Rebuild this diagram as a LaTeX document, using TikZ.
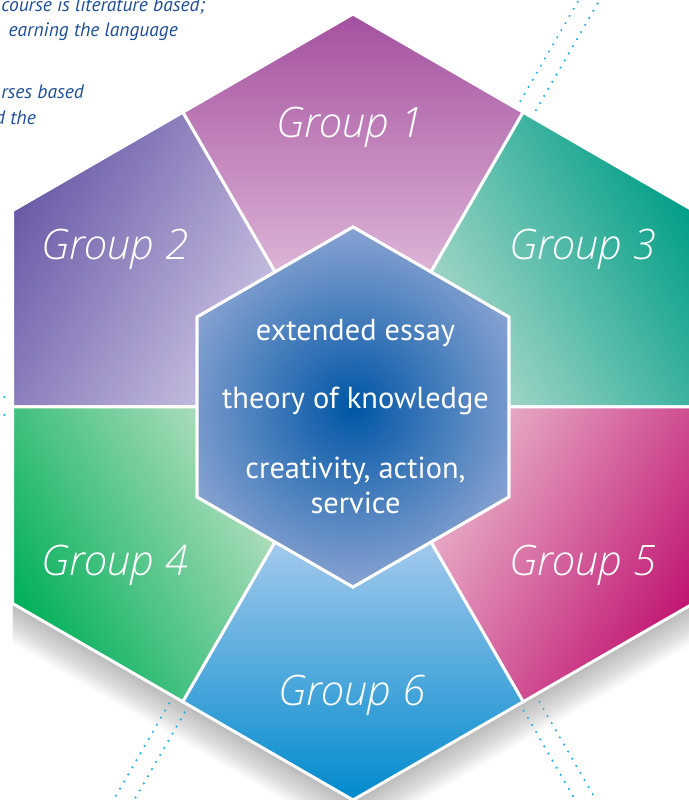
\documentclass[tikz,border=0pt]{standalone}
\usepackage{fontspec}
\usepackage{tikz}
\usetikzlibrary{calc}
\setmainfont{PT Sans}
\IfFontExistsTF{Open Sans Light Italic}
  {\newfontfamily\grpfont{Open Sans Light Italic}}
  {\IfFontExistsTF{Lato Light Italic}
     {\newfontfamily\grpfont{Lato Light Italic}}
     {\newcommand{\grpfont}{\itshape}}}

% sector colours: outer corner / towards the core
\definecolor{grpAout}{HTML}{A4509F}\definecolor{grpAin}{HTML}{DDB4D6}
\definecolor{grpBout}{HTML}{6A5AA7}\definecolor{grpBin}{HTML}{C9C1E2}
\definecolor{grpCout}{HTML}{009E86}\definecolor{grpCin}{HTML}{A9D8CB}
\definecolor{grpDout}{HTML}{00AF5A}\definecolor{grpDin}{HTML}{B6DFC0}
\definecolor{grpEout}{HTML}{C01470}\definecolor{grpEin}{HTML}{E9B2CA}
\definecolor{grpFout}{HTML}{008ACD}\definecolor{grpFin}{HTML}{A3C9EC}
\definecolor{coreIn}{HTML}{0056A5}\definecolor{coreOut}{HTML}{AAB6DD}
\definecolor{noteblue}{HTML}{1D4F98}
\definecolor{dotcyan}{HTML}{1FB1E6}

% outer radius, outer apothem, core radius, core apothem
\newcommand{\Rout}{393}
\newcommand{\Aout}{340.35}
\newcommand{\Rcore}{180}
\newcommand{\Acore}{155.9}

\tikzset{
  sector/.style    = {draw=white, line width=3pt, line join=miter},
  corehex/.style   = {draw=white, line width=3pt, line join=miter},
  grouplabel/.style= {text=white, font=\grpfont\fontsize{42}{42}\selectfont, anchor=base, inner sep=0pt},
  coretext/.style  = {text=white, font=\fontsize{30.4}{36}\selectfont, anchor=base, inner sep=0pt},
  sidetext/.style  = {text=noteblue, font=\itshape\fontsize{19.5}{25}\selectfont, anchor=base east, inner sep=0pt},
  linkdots/.style  = {draw=dotcyan, line width=2.4pt, line cap=round, dash pattern=on 0pt off 8.2pt}
}

\begin{document}
\begin{tikzpicture}[x=1pt, y=1pt]
\useasboundingbox (-353,-393) rectangle (335,407);

% soft shadow below the big hexagon
\foreach \k in {1,...,20}
  \fill[black, opacity=0.015, shift={(0,-2*\k)}]
    (90:\Rout) -- (150:\Rout) -- (210:\Rout) -- (270:\Rout) -- (330:\Rout) -- (30:\Rout) -- cycle;

% dotted leads leaving the edge midpoints
\foreach \a/\s [count=\i] in {60/-1, -60/5, -120/-2, 180/-1} {
  \coordinate (edge\i) at (\a:\Aout);
  \foreach \o in {-9,9}
    \draw[linkdots] ($(edge\i)+(\a+90:\s+\o)$) -- ++(\a:320);
}

% the six group sectors
\foreach \a/\outc/\inc in {90/grpAout/grpAin, 150/grpBout/grpBin, 30/grpCout/grpCin,
                           210/grpDout/grpDin, 330/grpEout/grpEin, 270/grpFout/grpFin}
  \path[sector, top color=\outc, bottom color=\inc, shading angle=\a-90]
    (\a-30:\Aout) -- (\a:\Rout) -- (\a+30:\Aout) -- (\a+30:\Acore) -- (\a:\Rcore) -- (\a-30:\Acore) -- cycle;

% core hexagon
\begin{scope}
  \clip (90:\Rcore) -- (150:\Rcore) -- (210:\Rcore) -- (270:\Rcore) -- (330:\Rcore) -- (30:\Rcore) -- cycle;
  \shade[inner color=coreIn, outer color=coreOut] (0,0) circle (225);
\end{scope}
\draw[corehex] (90:\Rcore) -- (150:\Rcore) -- (210:\Rcore) -- (270:\Rcore) -- (330:\Rcore) -- (30:\Rcore) -- cycle;

\node[coretext] (ee)  at (2.5,66)   {extended essay};
\node[coretext] (tok) at (2.5,-2)   {theory of knowledge};
\node[coretext] (cas) at (2.5,-71)  {creativity, action,};
\node[coretext] (srv) at (2.5,-106) {service};

% group names
\node[grouplabel] (g1) at (-3,269)    {Group 1};
\node[grouplabel] (g2) at (-238,147)  {Group 2};
\node[grouplabel] (g3) at (230,147)   {Group 3};
\node[grouplabel] (g4) at (-238,-168) {Group 4};
\node[grouplabel] (g5) at (230,-168)  {Group 5};
\node[grouplabel] (g6) at (-1,-298)   {Group 6};

% notes running in from the left
\node[sidetext] (n1) at (-148,395) {course is literature based;};
\node[sidetext] (n2) at (-175,370) {earning the language};
\node[sidetext] (n3) at (-269,308) {rses based};
\node[sidetext] (n4) at (-317,282) {d the};
\end{tikzpicture}
\end{document}
